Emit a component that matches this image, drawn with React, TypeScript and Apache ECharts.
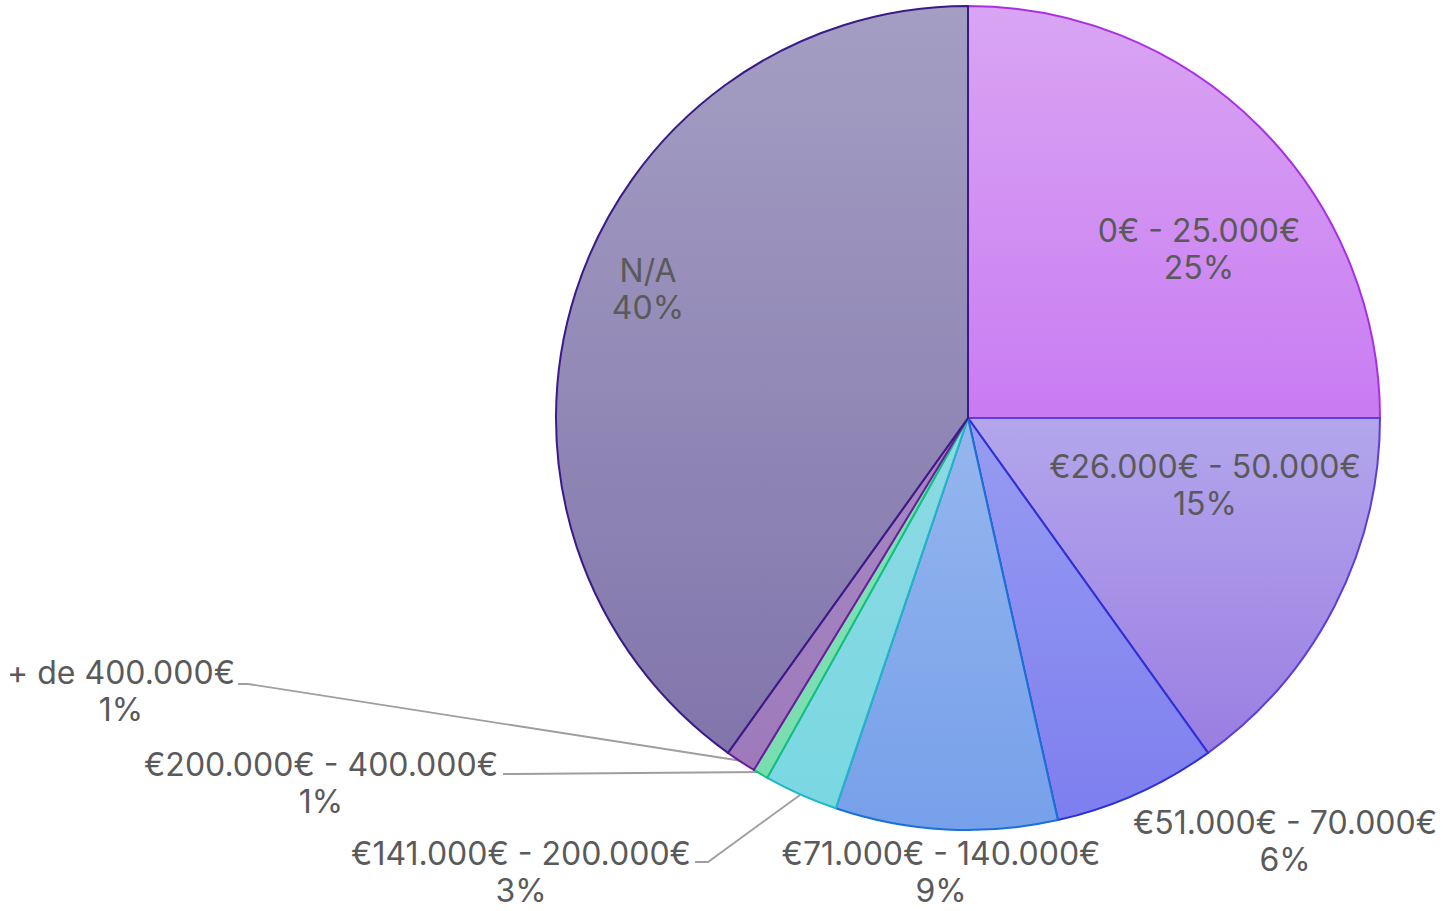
import React, { useEffect, useRef } from "react";
import * as echarts from "echarts";

const categories = [
  "0€ - 25.000€",
  "€26.000€ - 50.000€",
  "€51.000€ - 70.000€",
  "€71.000€ - 140.000€",
  "€141.000€ - 200.000€",
  "€200.000€ - 400.000€",
  "+ de 400.000€",
  "N/A",
];
const shares = [25, 15.1, 6.4, 8.7, 2.9, 0.6, 1.2, 40.1];

const gradTop = ["#D9A5F3", "#B3A6EC", "#979CF1", "#96B6EE", "#8DD9E2", "#80E0B4", "#A688C2", "#A49EC3"];
const gradBottom = ["#C97BF2", "#9A7EE2", "#7E7EEF", "#76A0EA", "#7AD8E2", "#7ADDB0", "#9E7ABB", "#8175AB"];
const borders = ["#A92FE6", "#5D3DD8", "#2C30D8", "#1A70D6", "#20B6C8", "#12BF80", "#6E1A9C", "#3A1A86"];

// label block centres (layout), and guide lines for the small slices
const labelPos: [number, number][] = [
  [1199, 249],
  [1205, 485],
  [1285, 841],
  [941, 872],
  [521, 872],
  [321, 783],
  [121, 691],
  [648, 289],
];
const guideLines: Record<number, [number, number][]> = {
  4: [[695, 862], [708, 862], [800, 795]],
  5: [[503, 774], [514, 774], [762, 772]],
  6: [[238, 684], [248, 684], [742, 761]],
};

export default function App() {
  const ref = useRef<HTMLDivElement>(null);
  useEffect(() => {
    document.body.style.margin = "0";
    const chart = echarts.init(ref.current!, null, { renderer: "svg" });
    const data = categories.map((name, i) => ({
      name,
      value: shares[i],
      itemStyle: {
        color: new echarts.graphic.LinearGradient(0, 0, 0, 1, [
          { offset: 0, color: gradTop[i] },
          { offset: 1, color: gradBottom[i] },
        ]),
        borderColor: borders[i],
        borderWidth: 2,
      },
      label: { position: guideLines[i] ? "outside" : "inside" },
      labelLine: { show: !!guideLines[i] },
    }));
    chart.setOption({
      animation: false,
      series: [
        {
          type: "pie",
          center: [968, 418],
          radius: [0, 412],
          startAngle: 90,
          clockwise: true,
          avoidLabelOverlap: false,
          data,
          label: {
            show: true,
            formatter: (p: any) => `${p.name}\n${Math.round(p.percent)}%`,
            fontFamily: "Inter",
            fontSize: 32,
            lineHeight: 37,
            color: "#5A5A5A",
            align: "center",
            overflow: "none",
          },
          labelLine: {
            lineStyle: { color: "#9E9E9E", width: 1.8 },
          },
          labelLayout: (params: any) => {
            const i = params.dataIndex;
            const out: any = {
              x: labelPos[i][0],
              y: labelPos[i][1],
              align: "center",
              verticalAlign: "middle",
            };
            if (guideLines[i]) out.labelLinePoints = guideLines[i];
            return out;
          },
          emphasis: { disabled: true },
        },
      ],
    });
    return () => chart.dispose();
  }, []);
  return <div ref={ref} style={{ width: 1443, height: 911 }} />;
}
